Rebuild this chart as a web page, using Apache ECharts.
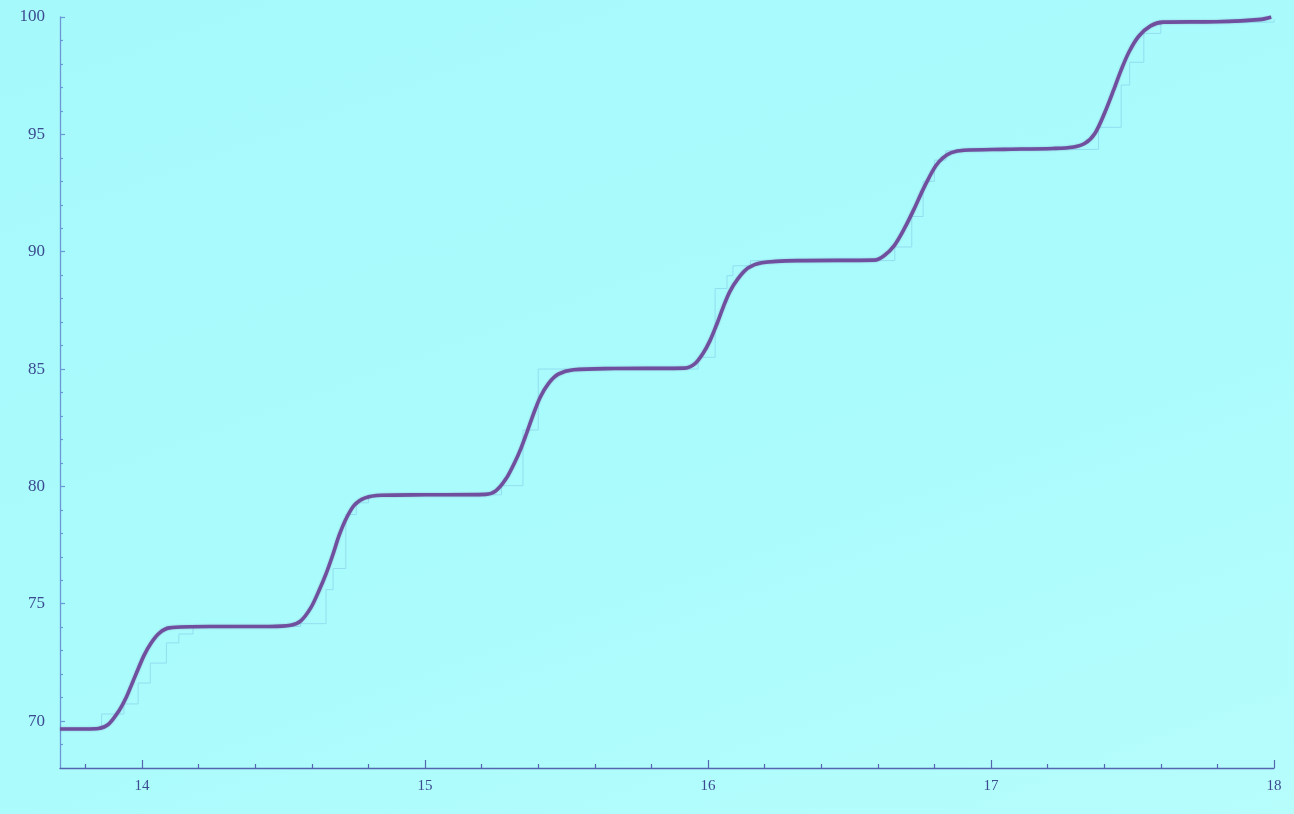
<!DOCTYPE html>
<html>
<head>
<meta charset="utf-8">
<script src="https://cdn.jsdelivr.net/npm/echarts@6/dist/echarts.min.js"></script>
<style>
  html, body { margin: 0; padding: 0; width: 1294px; height: 814px; overflow: hidden;
    background: linear-gradient(160deg, #a6f9fb 0%, #aafbfc 55%, #b6fdfc 100%); }
  #chart { width: 1294px; height: 814px; }
</style>
</head>
<body>
<div id="chart"></div>
<script>
// Smooth staircase curve (x, y)
const curvePoints = [
  [13.71, 69.66], [13.80, 69.66], [13.846, 69.68], [13.882, 69.87], [13.918, 70.43],
  [13.943, 70.98], [13.961, 71.49], [13.982, 72.10], [14.007, 72.80], [14.032, 73.33],
  [14.061, 73.75], [14.096, 73.97], [14.239, 74.03], [14.45, 74.03], [14.525, 74.08],
  [14.561, 74.27], [14.596, 74.82], [14.625, 75.55], [14.650, 76.27], [14.675, 77.12],
  [14.696, 77.90], [14.721, 78.62], [14.750, 79.20], [14.786, 79.50], [14.846, 79.62],
  [15.0, 79.64], [15.214, 79.66], [15.250, 79.81], [15.286, 80.32], [15.318, 81.05],
  [15.339, 81.62], [15.357, 82.20], [15.382, 83.05], [15.407, 83.80], [15.436, 84.38],
  [15.471, 84.78], [15.525, 84.97], [15.668, 85.02], [15.918, 85.04], [15.954, 85.23],
  [15.982, 85.66], [16.007, 86.21], [16.032, 86.94], [16.053, 87.62], [16.077, 88.30],
  [16.106, 88.85], [16.141, 89.30], [16.190, 89.53], [16.317, 89.62], [16.588, 89.64],
  [16.623, 89.84], [16.658, 90.26], [16.694, 90.99], [16.729, 91.84], [16.757, 92.58],
  [16.782, 93.18], [16.805, 93.66], [16.830, 94.00], [16.860, 94.22], [16.905, 94.32],
  [17.045, 94.36], [17.218, 94.40], [17.287, 94.45], [17.332, 94.62], [17.367, 95.04],
  [17.401, 95.90], [17.433, 96.88], [17.460, 97.75], [17.488, 98.52], [17.522, 99.18],
  [17.564, 99.62], [17.609, 99.78], [17.796, 99.80], [17.955, 99.90], [17.99, 100.0]
];

// Discrete step approximation drawn underneath (level starts at x)
const stepPoints = [
  [13.71, 69.66], [13.857, 70.30], [13.936, 70.73], [13.986, 71.62], [14.029, 72.47],
  [14.086, 73.33], [14.13, 73.71], [14.18, 74.03], [14.56, 74.15], [14.65, 75.6],
  [14.675, 76.5], [14.72, 78.8], [14.757, 79.3], [14.80, 79.64], [15.27, 80.03],
  [15.346, 82.4], [15.40, 85.0], [15.965, 85.5], [16.025, 88.43], [16.067, 88.98],
  [16.088, 89.4], [16.15, 89.62], [16.66, 90.2], [16.72, 91.5], [16.76, 93.0],
  [16.80, 93.9], [16.84, 94.3], [16.9, 94.36], [17.38, 95.3], [17.46, 97.1],
  [17.49, 98.07], [17.54, 99.3], [17.6, 99.78], [18.0, 99.9]
];

const xMajorTicks = [14, 15, 16, 17, 18];
const xMinorTicks = [13.8, 14.2, 14.4, 14.6, 14.8, 15.2, 15.4, 15.6, 15.8,
                     16.2, 16.4, 16.6, 16.8, 17.2, 17.4, 17.6, 17.8];
const yMajorTicks = [70, 75, 80, 85, 90, 95, 100];
const yMinorTicks = [69, 71, 72, 73, 74, 76, 77, 78, 79, 81, 82, 83, 84,
                     86, 87, 88, 89, 91, 92, 93, 94, 96, 97, 98, 99];

const X_MIN = 13.71, X_MAX = 18.0, Y_MIN = 68, Y_MAX = 100;

const labelFont = { fontFamily: '"Liberation Serif", "DejaVu Serif", serif', fontSize: 17, color: '#3c4b90' };

const chart = echarts.init(document.getElementById('chart'), null, { renderer: 'canvas' });
chart.setOption({
  backgroundColor: 'transparent',
  animation: false,
  grid: { left: 60, right: 20, top: 17, bottom: 46, containLabel: false },
  xAxis: [
    {
      type: 'value', min: X_MIN, max: X_MAX, position: 'bottom',
      axisLine: { show: true, onZero: false, lineStyle: { color: '#5466b0', width: 1.3 } },
      axisTick: { show: true, inside: true, length: 4, customValues: xMinorTicks,
                  lineStyle: { color: '#5466b0', width: 1.2 } },
      axisLabel: { show: true, customValues: xMajorTicks, margin: 11, ...labelFont, fontSize: 15 },
      splitLine: { show: false }
    },
    {
      type: 'value', min: X_MIN, max: X_MAX, position: 'bottom',
      axisLine: { show: false },
      axisTick: { show: true, inside: true, length: 8, customValues: xMajorTicks,
                  lineStyle: { color: '#5466b0', width: 1.2 } },
      axisLabel: { show: false },
      splitLine: { show: false }
    }
  ],
  yAxis: [
    {
      type: 'value', min: Y_MIN, max: Y_MAX, position: 'left',
      axisLine: { show: true, onZero: false, lineStyle: { color: '#6a98d6', width: 1.3 } },
      axisTick: { show: true, inside: true, length: 3, customValues: yMinorTicks,
                  lineStyle: { color: '#6a98d6', width: 1.2 } },
      axisLabel: { show: true, customValues: yMajorTicks, margin: 15, ...labelFont },
      splitLine: { show: false }
    },
    {
      type: 'value', min: Y_MIN, max: Y_MAX, position: 'left',
      axisLine: { show: false },
      axisTick: { show: true, inside: true, length: 5, customValues: yMajorTicks,
                  lineStyle: { color: '#6a98d6', width: 1.2 } },
      axisLabel: { show: false },
      splitLine: { show: false }
    }
  ],
  series: [
    {
      name: 'steps', type: 'line', step: 'end', data: stepPoints,
      xAxisIndex: 0, yAxisIndex: 0, symbol: 'none', z: 1,
      lineStyle: { color: '#92def0', width: 1 }
    },
    {
      name: 'curve', type: 'line', data: curvePoints,
      xAxisIndex: 0, yAxisIndex: 0, symbol: 'none', z: 3,
      smooth: 0.3,
      lineStyle: { color: '#6f4f9e', width: 3.6, shadowColor: 'rgba(80,40,110,0.3)', shadowBlur: 2 }
    }
  ]
});
</script>
</body>
</html>
